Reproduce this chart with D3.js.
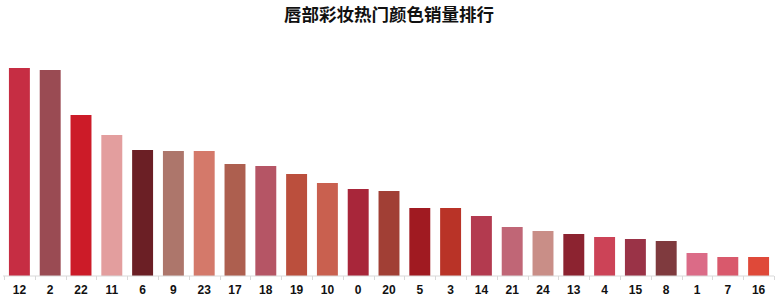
<!DOCTYPE html>
<html>
<head>
<meta charset="utf-8">
<script src="https://cdn.jsdelivr.net/npm/d3@7.9.0/dist/d3.min.js"></script>
<style>
  body { margin: 0; background: #fff; }
  svg { display: block; }
</style>
</head>
<body>
<svg id="chart" width="778" height="298"></svg>
<script>
// colour codes ranked by sales
const categories = ['12', '2', '22', '11', '6', '9', '23', '17', '18', '19', '10', '0', '20', '5', '3', '14', '21', '24', '13', '4', '15', '8', '1', '7', '16'];
const sales = [208, 206, 161, 141, 126, 125, 125, 112, 110, 102, 93, 87, 85, 68, 68, 60, 49, 45, 42, 39, 37, 35, 23, 19, 19];
const barColors = ['#c62d43', '#9a4b53', '#cc1b28', '#e39e9e', '#6b1f25', '#ad766b', '#d4796a', '#ad5f4f', '#b55565',
  '#bb4f3d', '#c9604f', '#a8263a', '#a13f35', '#a01a21', '#b93327', '#b33a4f', '#c06676', '#c98e87', '#8c2330',
  '#cc4357', '#9a3347', '#7f3a3e', '#db6b87', '#d9596c', '#df4939'];

const svg = d3.select('#chart');
const baseY = 276;

const x = d3.scaleBand()
  .domain(categories)
  .range([4, 774])
  .paddingInner(0.32)
  .paddingOuter(0.16);

const y = d3.scaleLinear()
  .domain([0, 208])
  .range([baseY, 68]);

svg.append('text')
  .attr('x', 389)
  .attr('y', 21)
  .attr('text-anchor', 'middle')
  .attr('font-family', '"Noto Sans CJK SC", sans-serif')
  .attr('font-weight', 'bold')
  .attr('font-size', 17.5)
  .attr('fill', '#111')
  .text('唇部彩妆热门颜色销量排行');

svg.selectAll('rect.bar')
  .data(sales)
  .join('rect')
  .attr('class', 'bar')
  .attr('x', (d, i) => x(categories[i]))
  .attr('y', (d) => y(d))
  .attr('width', x.bandwidth())
  .attr('height', (d) => baseY - y(d))
  .attr('fill', (d, i) => barColors[i]);

// axis line and ticks between bands
const axis = svg.append('g').attr('transform', `translate(0,${baseY})`);
const step = x.step();
axis.append('line')
  .attr('x1', x.range()[0] - 1).attr('x2', x.range()[1])
  .attr('stroke', '#d9d9d9').attr('stroke-width', 1);

const bounds = d3.range(categories.length + 1).map((i) => x(categories[0]) - x.paddingOuter() * step * 0 - (step - x.bandwidth()) / 2 + i * step);
axis.selectAll('line.tick')
  .data(bounds)
  .join('line')
  .attr('class', 'tick')
  .attr('x1', (d) => Math.round(d) + 0.5).attr('x2', (d) => Math.round(d) + 0.5)
  .attr('y1', 0).attr('y2', 4)
  .attr('stroke', '#d9d9d9');

axis.selectAll('text')
  .data(categories)
  .join('text')
  .attr('x', (d) => x(d) + x.bandwidth() / 2)
  .attr('y', 18)
  .attr('text-anchor', 'middle')
  .attr('font-family', '"Liberation Sans", Arial, sans-serif')
  .attr('font-weight', 'bold')
  .attr('font-size', 12)
  .attr('fill', '#111')
  .text((d) => d);
</script>
</body>
</html>
